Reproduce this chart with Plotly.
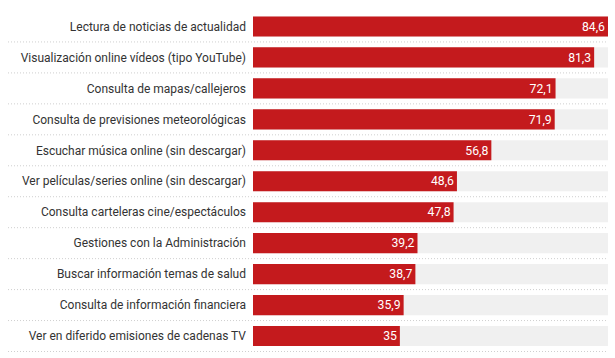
import plotly.graph_objects as go

categories = [
    "Lectura de noticias de actualidad",
    "Visualización online vídeos (tipo YouTube)",
    "Consulta de mapas/callejeros",
    "Consulta de previsiones meteorológicas",
    "Escuchar música online (sin descargar)",
    "Ver películas/series online (sin descargar)",
    "Consulta carteleras cine/espectáculos",
    "Gestiones con la Administración",
    "Buscar información temas de salud",
    "Consulta de información financiera",
    "Ver en diferido emisiones de cadenas TV",
]
values = [84.6, 81.3, 72.1, 71.9, 56.8, 48.6, 47.8, 39.2, 38.7, 35.9, 35]

max_val = max(values)
bg = [max_val] * len(values)

fig = go.Figure()
fig.add_trace(go.Bar(
    y=categories, x=bg, orientation="h",
    marker=dict(color="#f0f0f0", line=dict(width=0)),
    hoverinfo="skip", showlegend=False,
))
fig.add_trace(go.Bar(
    y=categories, x=values, orientation="h",
    marker=dict(color="#c41a1d", line=dict(width=0)),
    text=values, texttemplate="%{x}", textposition="inside",
    insidetextanchor="end", textangle=0, cliponaxis=False,
    textfont=dict(color="white", size=13, family="Roboto"),
    showlegend=False,
))

shapes = []
for i in range(len(categories)):
    shapes.append(dict(
        type="line", xref="paper", yref="y",
        x0=(8 - 253) / 355, x1=1, y0=i + 0.5, y1=i + 0.5,
        line=dict(color="#cfcfcf", width=1, dash="1px,2px"),
        layer="below",
    ))

fig.update_layout(
    width=615, height=358,
    margin=dict(l=253, r=7, t=11, b=6, autoexpand=False),
    barmode="overlay", bargap=0.35,
    separators=",.",
    paper_bgcolor="white", plot_bgcolor="white",
    font=dict(family="Roboto", size=12, color="#333333"),
    shapes=shapes,
    xaxis=dict(range=[0, max_val], visible=False, fixedrange=True,
               automargin=False),
    yaxis=dict(autorange="reversed", showgrid=False, zeroline=False,
               showline=False, ticks="", ticklabelstandoff=6,
               automargin=False,
               tickfont=dict(family="Roboto", size=12, color="#333333")),
)

fig.write_html(
    "out.html",
    config={"displayModeBar": False},
    post_script="document.body.style.margin='0';document.body.style.overflow='hidden';",
)
